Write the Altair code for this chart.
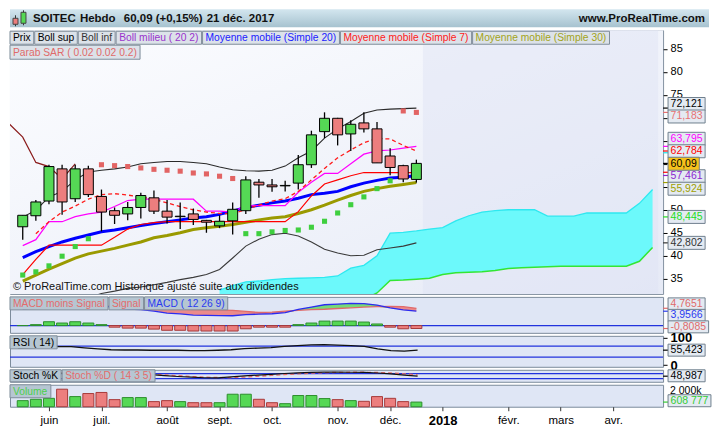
import json
import altair as alt
import pandas as pd

FONT = "Liberation Sans"

# ---------------------------------------------------------------------------
# Values (weekly bars, index 0 = week of 22 May 2017)
# ---------------------------------------------------------------------------
opens = [46.3, 48.7, 51.9, 58.9, 52.4, 58.9, 52.9, 49.8, 49.1, 50.5, 52.6, 49.7, 48.5, 49.1, 47.7, 46.5,
         47.6, 49.8, 56.0, 55.4, 55.2, 55.8, 59.8, 67.0, 69.9, 66.5, 68.9, 67.6, 61.7, 59.6, 56.6]
highs = [48.8, 52.1, 59.8, 59.8, 59.8, 59.6, 54.4, 50.5, 51.7, 53.7, 54.2, 52.1, 51.6, 50.3, 47.8, 48.8,
         51.6, 57.3, 56.7, 56.7, 56.3, 61.9, 67.2, 71.2, 70.0, 69.5, 71.2, 69.1, 63.4, 59.8, 60.9]
lows = [43.5, 47.6, 51.2, 48.9, 51.7, 52.8, 45.3, 46.9, 47.7, 48.1, 49.1, 47.0, 45.8, 46.7, 45.0, 46.0,
        44.6, 49.1, 52.6, 53.9, 54.0, 54.4, 59.1, 65.6, 64.0, 62.8, 66.8, 60.2, 57.5, 56.0, 55.9]
closes = [48.8, 51.7, 59.4, 51.7, 58.9, 53.3, 49.5, 48.8, 50.5, 53.1, 49.7, 48.4, 48.6, 47.9, 47.3, 47.5,
          50.1, 56.5, 55.4, 55.0, 55.3, 59.8, 66.3, 69.9, 66.3, 68.6, 67.6, 60.2, 59.2, 56.7, 60.09]

bb_upper = [48.4, 49.9, 52.8, 54.0, 56.5, 58.2, 58.6, 58.9, 59.3, 60.0, 60.3, 60.5, 60.5, 60.3, 60.0, 59.3,
            58.7, 58.5, 58.4, 58.6, 59.5, 61.3, 62.8, 65.6, 67.6, 69.2, 71.0, 71.7, 71.9, 72.0, 72.121]
bb_lower = [30.6, 31.3, 30.8, 31.2, 30.7, 30.8, 31.8, 32.3, 32.9, 33.2, 33.7, 34.2, 34.8, 35.3, 35.9, 37.0,
            39.5, 42.1, 43.6, 44.6, 44.9, 44.3, 43.0, 41.4, 40.6, 40.0, 40.1, 41.3, 41.7, 42.1, 42.802]
sma20 = [39.6, 40.9, 42.0, 43.0, 43.8, 44.5, 45.2, 45.6, 46.1, 46.6, 47.0, 47.4, 47.8, 48.2, 48.5, 49.0,
         49.7, 50.5, 51.0, 51.5, 51.9, 52.5, 53.3, 53.6, 54.0, 55.0, 55.8, 56.4, 56.9, 57.1, 57.461]
sma30 = [34.5, 35.8, 37.1, 38.3, 39.5, 40.4, 41.0, 41.6, 42.3, 43.0, 43.9, 44.4, 45.0, 45.7, 46.1, 46.4,
         46.8, 47.3, 47.8, 48.2, 48.5, 49.2, 50.0, 51.0, 52.1, 53.1, 54.0, 54.6, 55.1, 55.5, 55.924]
sma7 = [None, 44.8, 47.4, 49.5, 50.8, 52.3, 53.3, 53.5, 53.2, 52.8, 52.3, 51.5, 50.7, 50.0, 49.5, 49.2,
        49.1, 50.1, 51.0, 51.9, 52.4, 54.0, 56.5, 59.0, 61.3, 63.0, 64.6, 65.5, 65.4, 64.0, 62.784]
red_line = [35.9, 39.2, 42.3, 42.3, 42.3, 42.3, 42.3, 44.0, 45.8, 46.8, 47.2, 47.4, 47.4, 47.4, 47.4, 47.4,
            47.4, 47.4, 47.4, 47.4, 47.4, 49.6, 53.0, 55.6, 56.5, 57.4, 58.1, 58.1, 58.1, 58.1, 58.1]
magenta_line = [42.2, 43.5, 47.4, 47.4, 48.5, 49.1, 49.5, 50.7, 52.0, 52.3, 52.3, 52.3, 52.3, 52.3, 49.7, 49.7,
                49.5, 50.9, 50.9, 50.9, 50.9, 53.8, 56.0, 57.9, 57.9, 60.0, 62.1, 62.8, 63.0, 63.4, 63.795]
sar = [35.8, 36.5, 37.8, 39.9, 42.0, 43.7, 59.8, 59.6, 59.4, 59.1, 58.8, 58.6, 58.4, 58.0, 57.8, 57.3,
       56.8, 44.8, 44.8, 45.2, 45.5, 45.6, 46.2, 47.5, 49.3, 51.1, 52.8, 54.6, 56.3, 71.5, 71.183]

chikou_idx = [-1, 0, 1, 2, 3, 4]
chikou = [68.6, 65.8, 60.3, 59.4, 56.7, 60.0]

cloud_idx = list(range(15, 49))
cloud_top = [32.5, 33.5, 34.3, 34.5, 34.8, 35.0, 35.1, 35.2, 35.3, 35.6, 37.3, 37.9, 40.0, 44.9, 45.1, 45.4,
             45.8, 46.1, 47.6, 48.7, 49.5, 49.8, 50.0, 50.0, 50.0, 48.6, 48.6, 48.6, 49.3, 49.3, 49.3, 49.3,
             51.4, 54.4]
cloud_bottom = [29.0, 29.0, 29.0, 29.2, 29.2, 29.2, 29.2, 29.4, 29.4, 29.4, 29.6, 30.5, 31.9, 34.6, 34.7, 34.9,
                35.1, 35.9, 36.3, 36.4, 36.5, 36.8, 37.2, 37.4, 37.5, 37.6, 37.7, 37.7, 37.7, 37.7, 37.7, 37.7,
                38.8, 41.8]

macd_line = [4.60, 4.90, 5.80, 5.65, 6.15, 5.95, 5.60, 4.90, 4.55, 4.40, 3.98, 3.45, 3.25, 2.90, 2.80, 2.75,
             2.70, 3.00, 3.16, 3.26, 3.56, 4.46, 5.10, 5.73, 5.93, 6.13, 6.07, 5.64, 4.86, 4.32, 3.9566]
signal_line = [4.60, 4.65, 4.75, 4.95, 5.10, 5.25, 5.35, 5.35, 5.25, 5.10, 4.95, 4.75, 4.55, 4.40, 4.30, 4.25,
               4.20, 3.90, 3.60, 3.70, 4.00, 4.20, 4.40, 4.50, 4.70, 4.90, 5.10, 5.20, 5.30, 5.20, 4.7651]
macd_hist = [0.0, 0.26, 1.06, 0.70, 1.06, 0.70, 0.26, -0.44, -0.70, -0.70, -0.97, -1.30, -1.30, -1.50, -1.50, -1.50,
             -1.50, -0.88, -0.44, -0.44, -0.44, 0.26, 0.70, 1.23, 1.23, 1.23, 0.97, 0.44, -0.44, -0.88, -0.8085]
rsi = [62, 64, 67, 68, 68, 64, 60, 57, 56, 56, 55, 55, 55, 54, 54, 55,
       57, 61, 63, 65, 69, 72, 75, 76, 74, 72, 69, 60, 54, 52, 55.423]
stoch_k = [80, 85, 90, 85, 88, 80, 65, 62, 66, 70, 68, 55, 45, 37, 30, 29,
           40, 52, 62, 72, 82, 89, 95, 98, 98, 97, 96, 88, 76, 62, 48.987]
stoch_d = [78, 82, 85, 87, 86, 84, 78, 72, 70, 70, 72, 65, 55, 45, 38, 33,
           32, 38, 48, 58, 68, 78, 86, 92, 95, 97, 97, 94, 88, 78, 66]
volume_k = [800, 975, 1100, 2300, 1330, 1730, 1870, 930, 1200, 1200, 670, 800, 670, 530, 530, 530,
            1640, 1640, 975, 530, 400, 1470, 1470, 1070, 930, 800, 710, 1330, 1100, 670, 608.777]

tick_idx = [2, 6, 11, 15, 19, 24, 28, 32, 37, 41, 45]
tick_labels = ["juin", "juil.", "août", "sept.", "oct.", "nov.", "déc.", "2018", "févr.", "mars", "avr."]
price_ticks = [35, 40, 45, 50, 55, 60, 65, 70, 75, 80, 85]
price_ticks_covered = [55, 60, 65, 70]

main_legend = ["Prix", "Boll sup", "Boll inf", "Boll milieu ( 20 2)", "Moyenne mobile (Simple 20)",
               "Moyenne mobile (Simple 7)", "Moyenne mobile (Simple 30)"]
main_legend2 = ["Parab SAR ( 0.02 0.02 0.2)"]
macd_legend = ["MACD moins Signal", "Signal", "MACD ( 12 26 9)"]
rsi_legend = ["RSI ( 14)"]
stoch_legend = ["Stoch %K", "Stoch %D ( 14 3 5)"]
vol_legend = ["Volume"]

main_box_vals = [72.121, 71.183, 63.795, 62.784, 60.09, 57.461, 55.924, 48.445, 42.802]
main_box_txt = ["72,121", "71,183", "63,795", "62,784", "60,09", "57,461", "55,924", "48,445", "42,802"]
main_tick_vals = [58.16, 62.40]
macd_box_vals = [4.7651, 3.9566, -0.8085]
macd_box_txt = ["4,7651", "3,9566", "-0,8085"]
rsi_box_vals = [55.423]
rsi_box_txt = ["55,423"]
stoch_box_vals = [48.987]
stoch_box_txt = ["48,987"]
vol_box_vals = [608.777]
vol_box_txt = ["608 777"]

# ---------------------------------------------------------------------------
# Layout / style
# ---------------------------------------------------------------------------
W = 654
H_HEAD, H_MAIN, H_MACD, H_RSI, H_STO, H_VOL = 18, 264, 36, 31, 12, 22
X_DOM = [-0.59, 48.42]
GREEN, RED = "#55d855", "#ec7e7e"
GREEN_S, RED_S = "#2c8f2c", "#a83a3a"
PANEL_BG = "#dfe6f5"
BORDER = "#7b8b9b"
LEG_MAIN_BG = "#dce2e9"
LEG_SUB_BG = "#b6c6d2"
LEG_SIZE = 10.3
VAL_SIZE = 10.5

n = len(closes)
idx = list(range(n))
one = pd.DataFrame({"k": [0]})
xs = alt.Scale(domain=X_DOM, nice=False, zero=False)
X = alt.X("idx:Q", scale=xs, axis=None)

# Arial / Liberation Sans advance widths (1/1000 em) used to size the label boxes
_AW = {" ": 278, "(": 333, ")": 333, "%": 889, "+": 584, ",": 278, "-": 333, ".": 278, ":": 278}
_AW.update({d: 556 for d in "0123456789"})
_AW.update(dict(zip("ABCDEFGHIJKLMNOPQRSTUVWXYZ",
                    [667, 667, 722, 722, 667, 611, 778, 722, 278, 500, 667, 556, 833, 722, 778, 667, 778, 722,
                     667, 611, 722, 667, 944, 667, 667, 611])))
_AW.update(dict(zip("abcdefghijklmnopqrstuvwxyz",
                    [556, 556, 500, 556, 556, 278, 556, 556, 222, 222, 500, 222, 833, 556, 556, 556, 556, 333,
                     500, 278, 556, 500, 722, 500, 500, 500])))


def tw(s, size):
    return sum(_AW.get(ch, 556) for ch in s) * size / 1000.0


def box_layers(x0, x1, y0, y1, text, color, fill, size=LEG_SIZE, stroke="#7f8d9a"):
    r = alt.Chart(one).mark_rect(fill=fill, stroke=stroke, strokeWidth=1).encode(
        x=alt.value(x0), x2=alt.value(x1), y=alt.value(y0), y2=alt.value(y1))
    t = alt.Chart(one).mark_text(text=text, align="left", baseline="middle", font=FONT, fontSize=size,
                                 color=color).encode(
        x=alt.value(x0 + 3), y=alt.value((y0 + y1) / 2 + 0.5))
    return [r, t]


def legend_row(texts, colors, y0, y1, fill):
    out = []
    x = 0.0
    for t, c in zip(texts, colors):
        w = tw(t, LEG_SIZE) + 6
        out += box_layers(x, x + w, y0, y1, t, c, fill)
        x += w + 1
    return out


def place(vals, dom, h, bh, sep):
    lo, hi = dom
    k = h / (hi - lo)
    px = [(hi - v) * k for v in vals]
    order = sorted(range(len(vals)), key=lambda i: px[i])
    c = [px[i] for i in order]
    for _ in range(400):
        for j in range(len(c) - 1):
            d = c[j + 1] - c[j]
            if d < sep:
                s = (sep - d) / 2
                c[j] -= s
                c[j + 1] += s
        c[0] = max(c[0], bh / 2)
        c[-1] = min(c[-1], h - bh / 2)
    out = [0.0] * len(vals)
    for j, i in enumerate(order):
        out[i] = hi - c[j] / k
    return out, bh / 2 / k


def value_boxes(vals, texts, colors, fills, dom, h, ys, ax, bh=12, sep=11, top_last=None,
                extra_ticks=None, extra_colors=None):
    centers, half = place(vals, dom, h, bh, sep)
    tv = list(vals) + list(extra_ticks or [])
    tc = list(colors) + list(extra_colors or [])
    layers = [alt.Chart(pd.DataFrame({"v": tv, "c": tc})).mark_rule(strokeWidth=1.2).encode(
        x=alt.value(W), x2=alt.value(W + 5), y=alt.Y("v:Q", scale=ys, axis=ax),
        color=alt.Color("c:N", scale=None))]
    order = sorted(range(len(vals)), key=lambda i: -centers[i])
    if top_last is not None:
        order = [i for i in order if i != top_last] + [top_last]
    for i in order:
        d = pd.DataFrame({"y1": [centers[i] + half], "y2": [centers[i] - half], "yc": [centers[i]]})
        layers.append(alt.Chart(d).mark_rect(fill=fills[i], stroke="#6f7f8e", strokeWidth=1).encode(
            x=alt.value(W + 5), x2=alt.value(W + 10 + tw(texts[i], VAL_SIZE)),
            y=alt.Y("y1:Q", scale=ys, axis=ax), y2="y2:Q"))
        layers.append(alt.Chart(d).mark_text(text=texts[i], align="left", baseline="middle", font=FONT,
                                             fontSize=VAL_SIZE, color=colors[i]).encode(
            x=alt.value(W + 7.5), y=alt.Y("yc:Q", scale=ys, axis=ax)))
    return layers


# ---------------------------------------------------------------------------
# Header
# ---------------------------------------------------------------------------
HW = W + 46
head_grad = alt.LinearGradient(gradient="linear", x1=0, x2=0, y1=0, y2=1,
                               stops=[alt.GradientStop(color="#d3e6ef", offset=0),
                                      alt.GradientStop(color="#a6c2cf", offset=1)])
header_layers = [
    alt.Chart(one).mark_rect(fill=head_grad).encode(x=alt.value(0), x2=alt.value(HW), y=alt.value(0),
                                                    y2=alt.value(H_HEAD)),
    alt.Chart(one).mark_rule(color="#333", strokeWidth=1).encode(x=alt.value(5.5), y=alt.value(6), y2=alt.value(17)),
    alt.Chart(one).mark_rect(fill=RED, stroke="#444").encode(x=alt.value(3), x2=alt.value(8), y=alt.value(9),
                                                            y2=alt.value(15)),
    alt.Chart(one).mark_rule(color="#333", strokeWidth=1).encode(x=alt.value(13.5), y=alt.value(1), y2=alt.value(16)),
    alt.Chart(one).mark_rect(fill=GREEN, stroke="#444").encode(x=alt.value(11), x2=alt.value(16), y=alt.value(3),
                                                              y2=alt.value(14)),
]
for txt, xpos in [("SOITEC", 23), ("Hebdo", 70), ("60,09 (+0,15%)", 114), ("21 déc. 2017", 197)]:
    header_layers.append(alt.Chart(one).mark_text(text=txt, align="left", baseline="middle", font=FONT,
                                                  fontSize=11.5, fontWeight="bold", color="#111").encode(
        x=alt.value(xpos), y=alt.value(10)))
header_layers.append(alt.Chart(one).mark_text(text="www.ProRealTime.com", align="right", baseline="middle",
                                              font=FONT, fontSize=11.5, fontWeight="bold", color="#111").encode(
    x=alt.value(HW - 4), y=alt.value(10)))
header = alt.layer(*header_layers).properties(width=HW, height=H_HEAD,
                                              view=alt.ViewBackground(stroke="transparent"))

# ---------------------------------------------------------------------------
# Main price panel
# ---------------------------------------------------------------------------
ys_main = alt.Scale(domain=[31.7, 89.05], nice=False, zero=False)
ax_main = alt.Axis(orient="right", values=price_ticks, title=None, grid=False, domain=False,
                   labelExpr="indexof({}, datum.value) >= 0 ? '' : datum.label".format(
                       json.dumps(price_ticks_covered)),
                   tickSize=4, tickColor="#000", labelFontSize=11, labelColor="#000", labelPadding=3,
                   labelFont=FONT)


def Ym(f):
    return alt.Y(f, scale=ys_main, axis=ax_main)


main_df = pd.DataFrame(dict(idx=idx, open=opens, high=highs, low=lows, close=closes, bbu=bb_upper,
                            bbl=bb_lower, sma20=sma20, sma30=sma30, sma7=sma7, red=red_line,
                            mag=magenta_line, sar=sar))
cloud_df = pd.DataFrame(dict(idx=cloud_idx, top=cloud_top, bot=cloud_bottom))
chikou_df = pd.DataFrame(dict(idx=chikou_idx, v=chikou))
base = alt.Chart(main_df)

bg_grad = alt.LinearGradient(gradient="linear", x1=0, x2=1, y1=0, y2=1,
                             stops=[alt.GradientStop(color="#fcfdff", offset=0),
                                    alt.GradientStop(color="#e6eaf6", offset=1)])
main_layers = [
    alt.Chart(one).mark_rect(fill=bg_grad).encode(x=alt.value(0), x2=alt.value(W), y=alt.value(0),
                                                  y2=alt.value(H_MAIN)),
    alt.Chart(pd.DataFrame({"x0": [n - 0.5], "x1": [X_DOM[1]]})).mark_rect(fill="#dde3f3", opacity=0.45).encode(
        x=alt.X("x0:Q", scale=xs, axis=None), x2="x1:Q", y=alt.value(0), y2=alt.value(H_MAIN)),
    alt.Chart(cloud_df).mark_area(color="#6cf9fb", clip=True).encode(x=X, y=Ym("top:Q"), y2="bot:Q"),
    alt.Chart(cloud_df).mark_line(color="#2ee8f0", strokeWidth=1.3, clip=True).encode(x=X, y=Ym("top:Q")),
    alt.Chart(cloud_df).mark_line(color="#33e633", strokeWidth=1.5, clip=True).encode(x=X, y=Ym("bot:Q")),
    base.mark_line(color="#2a2a2a", strokeWidth=1.1, clip=True).encode(x=X, y=Ym("bbu:Q")),
    base.mark_line(color="#3a3a3a", strokeWidth=1.1, clip=True).encode(x=X, y=Ym("bbl:Q")),
    base.mark_line(color="#9a9a00", strokeWidth=3, clip=True).encode(x=X, y=Ym("sma30:Q")),
    base.mark_line(color="#0000ff", strokeWidth=3, clip=True).encode(x=X, y=Ym("sma20:Q")),
    base.mark_line(color="#ff0000", strokeWidth=1.2, clip=True).encode(x=X, y=Ym("red:Q")),
    base.mark_line(color="#ff00ff", strokeWidth=1.2, clip=True).encode(x=X, y=Ym("mag:Q")),
    base.mark_line(color="#ff1a1a", strokeWidth=1.3, strokeDash=[4, 3], clip=True).encode(x=X, y=Ym("sma7:Q")),
    alt.Chart(chikou_df).mark_line(color="#8b1c1c", strokeWidth=1.2, clip=True).encode(x=X, y=Ym("v:Q")),
    base.mark_square(size=26, opacity=1).encode(
        x=X, y=Ym("sar:Q"),
        color=alt.condition("datum.sar > datum.close", alt.value("#e26464"), alt.value("#3fcf3f"))),
    base.mark_rule(color="#000", strokeWidth=1.3).encode(x=X, y=Ym("low:Q"), y2="high:Q"),
    base.mark_bar(width=10, stroke="#000", strokeWidth=1).encode(
        x=X, y=Ym("open:Q"), y2="close:Q",
        fill=alt.condition("datum.close >= datum.open", alt.value(GREEN), alt.value(RED))),
    alt.Chart(one).mark_text(text="© ProRealTime.com  Historique ajusté suite aux dividendes", align="left",
                             baseline="middle", font=FONT, fontSize=11, color="#111").encode(
        x=alt.value(3), y=alt.value(H_MAIN - 7)),
]
main_layers += legend_row(main_legend, ["#000", "#000", "#333", "#9933cc", "#1a1aff", "#ff2020", "#a3a31a"],
                          1, 14, LEG_MAIN_BG)
main_layers += legend_row(main_legend2, ["#e06a6a"], 15, 29, LEG_MAIN_BG)
main_fills = ["#e4eaf2"] * len(main_box_vals)
main_fills[4] = "#f6c21c"
main_layers += value_boxes(main_box_vals, main_box_txt,
                           ["#000", "#e87272", "#ff00ff", "#ff0000", "#000", "#8d1fcf", "#a0a000",
                            "#22dd22", "#333"],
                           main_fills, [31.7, 89.05], H_MAIN, ys_main, ax_main, bh=13, sep=12.5, top_last=4,
                           extra_ticks=main_tick_vals, extra_colors=["#ff0000", "#22e0ea"])
main = alt.layer(*main_layers).properties(width=W, height=H_MAIN)

# ---------------------------------------------------------------------------
# MACD panel
# ---------------------------------------------------------------------------
ys_macd = alt.Scale(domain=[-2.0, 7.9], nice=False, zero=False)
macd_df = pd.DataFrame(dict(idx=idx, macd=macd_line, sig=signal_line, hist=macd_hist))
mb = alt.Chart(macd_df)


def Yc(f):
    return alt.Y(f, scale=ys_macd, axis=None)


macd_layers = [
    alt.Chart(pd.DataFrame({"z": [0]})).mark_rule(color="#2233dd", strokeWidth=1.2).encode(y=Yc("z:Q")),
    mb.transform_calculate(z0="0").mark_bar(width=11, strokeWidth=1).encode(
        x=X, y=Yc("hist:Q"), y2="z0:Q",
        fill=alt.condition("datum.hist >= 0", alt.value(GREEN), alt.value(RED)),
        stroke=alt.condition("datum.hist >= 0", alt.value(GREEN_S), alt.value(RED_S))),
    mb.transform_calculate(lo="min(datum.macd, datum.sig)").mark_area(color="#ec8080", opacity=0.9).encode(
        x=X, y=Yc("sig:Q"), y2="lo:Q"),
    mb.transform_calculate(lo="min(datum.macd, datum.sig)").mark_area(color="#6ad86a", opacity=0.9).encode(
        x=X, y=Yc("macd:Q"), y2="lo:Q"),
    mb.mark_line(color="#e06a6a", strokeWidth=1.3).encode(x=X, y=Yc("sig:Q")),
    mb.mark_line(color="#2b2bf0", strokeWidth=1.3).encode(x=X, y=Yc("macd:Q")),
]
macd_layers += legend_row(macd_legend, ["#e46c6c", "#e46c6c", "#2b3bf0"], 0, 13, LEG_SUB_BG)
macd_layers += value_boxes(macd_box_vals, macd_box_txt, ["#e06a6a", "#2b3bf0", "#e06a6a"], ["#e4eaf2"] * 3,
                           [-2.0, 7.9], H_MACD, ys_macd, None, bh=12, sep=11.5)
macd = alt.layer(*macd_layers).properties(width=W, height=H_MACD,
                                          view=alt.ViewBackground(fill=PANEL_BG, stroke=BORDER))

# ---------------------------------------------------------------------------
# RSI panel
# ---------------------------------------------------------------------------
ys_rsi = alt.Scale(domain=[-5.5, 107.9], nice=False, zero=False)
ax_rsi = alt.Axis(orient="right", values=[0, 100], title=None, grid=False, domain=False, tickSize=4,
                  tickColor="#000", labelFontSize=13, labelFontWeight="bold", labelColor="#000",
                  labelPadding=3, labelFont=FONT)
rsi_df = pd.DataFrame(dict(idx=idx, rsi=rsi))
rsi_layers = [
    alt.Chart(pd.DataFrame({"lvl": [70, 30]})).mark_rule(color="#2233dd", strokeWidth=1.2).encode(
        y=alt.Y("lvl:Q", scale=ys_rsi, axis=ax_rsi)),
    alt.Chart(rsi_df).mark_line(color="#111", strokeWidth=1.3).encode(
        x=X, y=alt.Y("rsi:Q", scale=ys_rsi, axis=ax_rsi)),
]
rsi_layers += legend_row(rsi_legend, ["#000"], 0, 13, LEG_SUB_BG)
rsi_layers += value_boxes(rsi_box_vals, rsi_box_txt, ["#000"], ["#e4eaf2"], [-5.5, 107.9], H_RSI, ys_rsi,
                          ax_rsi, bh=12, sep=11)
rsi_chart = alt.layer(*rsi_layers).properties(width=W, height=H_RSI,
                                              view=alt.ViewBackground(fill=PANEL_BG, stroke=BORDER))

# ---------------------------------------------------------------------------
# Stochastic panel
# ---------------------------------------------------------------------------
ys_sto = alt.Scale(domain=[-19, 127], nice=False, zero=False)
sto_df = pd.DataFrame(dict(idx=idx, k=stoch_k, d=stoch_d))
sto_layers = [
    alt.Chart(pd.DataFrame({"lvl": [80, 20]})).mark_rule(color="#2233dd", strokeWidth=1.2).encode(
        y=alt.Y("lvl:Q", scale=ys_sto, axis=None)),
    alt.Chart(sto_df).mark_line(color="#e46c6c", strokeWidth=1.3, strokeDash=[4, 3], clip=True).encode(
        x=X, y=alt.Y("d:Q", scale=ys_sto, axis=None)),
    alt.Chart(sto_df).mark_line(color="#111", strokeWidth=1.2, clip=True).encode(
        x=X, y=alt.Y("k:Q", scale=ys_sto, axis=None)),
]
sto_layers += legend_row(stoch_legend, ["#000", "#e46c6c"], 0, 12, LEG_SUB_BG)
sto_layers += value_boxes(stoch_box_vals, stoch_box_txt, ["#000"], ["#e4eaf2"], [-19, 127], H_STO, ys_sto,
                          None, bh=12, sep=11)
stoch = alt.layer(*sto_layers).properties(width=W, height=H_STO,
                                          view=alt.ViewBackground(fill=PANEL_BG, stroke=BORDER))

# ---------------------------------------------------------------------------
# Volume panel with the time axis
# ---------------------------------------------------------------------------
ys_vol = alt.Scale(domain=[0, 2880], nice=False, zero=False)
label_expr = "{}[indexof({}, datum.value)]".format(json.dumps(tick_labels, ensure_ascii=False),
                                                   json.dumps(tick_idx))
ax_time = alt.Axis(orient="bottom", values=tick_idx, labelExpr=label_expr, title=None, grid=False, domain=False,
                   tickSize=4, tickColor="#333", labelColor="#000", labelFont=FONT, labelPadding=4,
                   labelOverlap=False, labelFlush=False,
                   labelFontSize=alt.condition("datum.value == 32", alt.value(13), alt.value(11.5)),
                   labelFontWeight=alt.condition("datum.value == 32", alt.value("bold"), alt.value("normal")))
XT = alt.X("idx:Q", scale=xs, axis=ax_time)
vol_df = pd.DataFrame(dict(idx=idx, vol=volume_k, open=opens, close=closes))
vol_layers = [
    alt.Chart(vol_df).transform_calculate(z0="0").mark_bar(width=11, strokeWidth=1).encode(
        x=XT, y=alt.Y("vol:Q", scale=ys_vol, axis=None), y2="z0:Q",
        fill=alt.condition("datum.close >= datum.open", alt.value(GREEN), alt.value(RED)),
        stroke=alt.condition("datum.close >= datum.open", alt.value(GREEN_S), alt.value(RED_S))),
    alt.Chart(pd.DataFrame({"v": [2000]})).mark_text(text="2 000k", align="left", baseline="middle", font=FONT,
                                                     fontSize=10.5, color="#000").encode(
        x=alt.value(W + 7), y=alt.Y("v:Q", scale=ys_vol, axis=None)),
]
vol_layers += legend_row(vol_legend, ["#4ccf4c"], 0, 13, LEG_SUB_BG)
vol_layers += value_boxes(vol_box_vals, vol_box_txt, ["#33cc33"], ["#e4eaf2"], [0, 2880], H_VOL, ys_vol,
                          None, bh=12, sep=11)
volume = alt.layer(*vol_layers).properties(width=W, height=H_VOL,
                                           view=alt.ViewBackground(fill=PANEL_BG, stroke=BORDER))

chart = alt.vconcat(header, main, macd, rsi_chart, stoch, volume, spacing=3, bounds="flush").properties(
    padding=0, background="white"
).configure(font=FONT).configure_view(stroke=BORDER, strokeWidth=1)

chart.save("out.html", embed_options={"renderer": "svg", "actions": False})
